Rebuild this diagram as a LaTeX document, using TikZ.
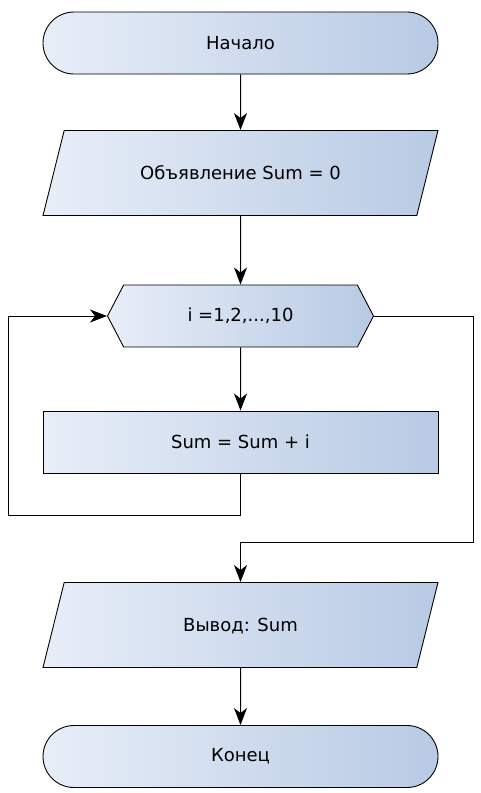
\documentclass[tikz,border=0pt]{standalone}
\usepackage{fontspec}
\setmainfont{DejaVu Sans}
\usetikzlibrary{shapes.geometric,shapes.misc,shapes.symbols,arrows.meta}
\definecolor{fillL}{HTML}{E8EEF8}
\definecolor{fillR}{HTML}{B8CAE4}

\begin{document}
\begin{tikzpicture}[x=1pt,y=-1pt,
					every node/.style={draw,line width=0.9pt,left color=fillL,right color=fillR,
						font=\fontsize{18}{21}\selectfont,inner sep=0pt,minimum width=395pt,minimum height=62pt},
					term/.style={rounded rectangle},
					io/.style={trapezium,trapezium left angle=76,trapezium right angle=104,trapezium stretches body,
						text height=15pt,text depth=2pt,inner ysep=34pt},
					loop/.style={signal,signal to=east and west,signal pointer angle=125,minimum width=266pt},
					proc/.style={rectangle},
					flow/.style={line width=1pt,-{Stealth[length=17pt,width=13pt,inset=5pt]}}]
					\useasboundingbox (0,0) rectangle (481,793);
					\node[term] (begin) at (240.5,43) {Начало};
					\node[io] (decl) at (240.5,173) {Объявление Sum = 0};
					\node[loop] (cycle) at (240.5,316) {i =1,2,...,10};
					\node[proc] (add) at (240.5,442) {Sum = Sum + i};
					\node[io] (print) at (240.5,625) {Вывод: Sum};
					\node[term] (finish) at (240.5,756.5) {Конец};
					\coordinate (back) at (8,515);
					\coordinate (exit) at (473,542);
					\draw[flow] (begin) -- (decl);
					\draw[flow] (decl) -- (cycle);
					\draw[flow] (cycle) -- (add);
					\draw[flow] (add.south) |- (back) |- (cycle.west);
					\draw[flow] (cycle.east) -| (exit) -| (print.north);
					\draw[flow] (print) -- (finish);
				\end{tikzpicture}
\end{document}
